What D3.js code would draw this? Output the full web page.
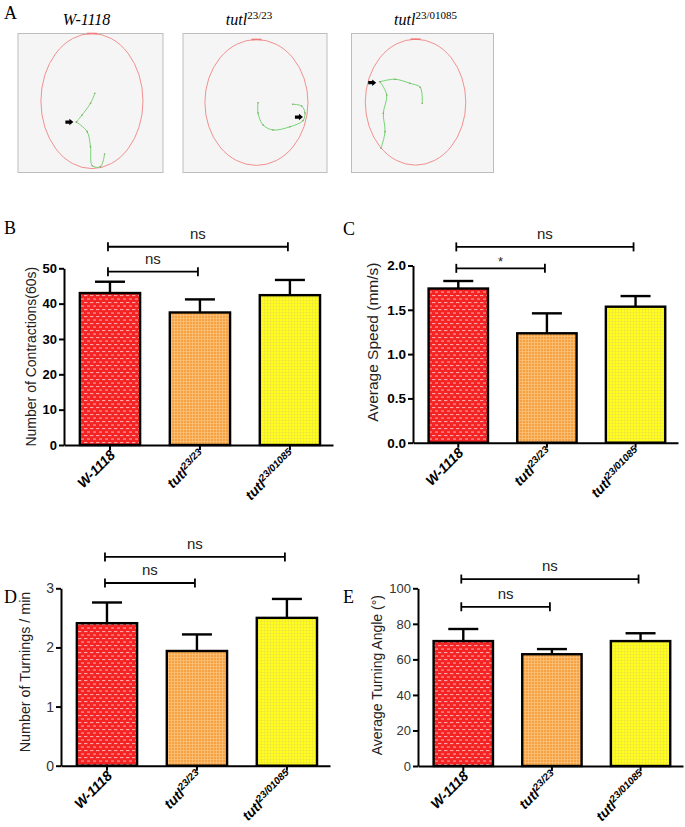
<!DOCTYPE html>
<html><head><meta charset="utf-8">
<script src="https://cdn.jsdelivr.net/npm/d3@7"></script>
<style>body{margin:0;background:#fff}svg{display:block}</style>
</head><body>
<script>
// ---------------- DATA ----------------
const catBase = ['W-1118', 'tutl', 'tutl'];
const catSup = ['', '23/23', '23/01085'];

const contractionsMean = [43.0, 37.5, 42.4];
const contractionsSem = [3.2, 3.7, 4.3];
const contractionsTicks = [0, 10, 20, 30, 40, 50];

const speedMean = [1.74, 1.235, 1.535];
const speedSem = [0.085, 0.225, 0.12];
const speedTicks = [0, 0.5, 1.0, 1.5, 2.0];

const turningsMean = [2.41, 1.94, 2.50];
const turningsSem = [0.35, 0.28, 0.32];
const turningsTicks = [0, 1, 2, 3];

const angleMean = [70.3, 62.9, 70.3];
const angleSem = [6.8, 2.9, 4.4];
const angleTicks = [0, 20, 40, 60, 80, 100];

// significance comparisons: [from, to, label, level (data units)]
const contractionsComp = [[0, 2, 'ns', 56.1], [0, 1, 'ns', 49.05]];
const speedComp = [[0, 2, 'ns', 2.21], [0, 1, '*', 1.968]];
const turningsComp = [[0, 2, 'ns', 3.53], [0, 1, 'ns', 3.09]];
const angleComp = [[0, 2, 'ns', 105.2], [0, 1, 'ns', 89.6]];

// Panel A: arena ellipses (normalized to box) and larval tracks (normalized)
const arenaEllipses = [[0.51, 0.486, 0.352, 0.486], [0.51, 0.496, 0.358, 0.453], [0.451, 0.494, 0.354, 0.453]];
const trackW1118 = [
  [[0.403, 0.637], [0.442, 0.586], [0.50, 0.502], [0.53, 0.43]],
  [[0.403, 0.637], [0.477, 0.706], [0.50, 0.815], [0.512, 0.951], [0.569, 0.958], [0.597, 0.867]]
];
const trackTutl2323 = [
  [[0.521, 0.498], [0.521, 0.572], [0.556, 0.658], [0.625, 0.694], [0.743, 0.671], [0.833, 0.627], [0.847, 0.572], [0.824, 0.522], [0.762, 0.509]]
];
const trackTutl01085 = [
  [[0.201, 0.347], [0.306, 0.329], [0.41, 0.358], [0.484, 0.387], [0.498, 0.502]],
  [[0.201, 0.347], [0.248, 0.442], [0.224, 0.574], [0.236, 0.706], [0.208, 0.826]]
];
const arrowTips = [[0.382, 0.637], [0.833, 0.601], [0.174, 0.354]];

// ---------------- DRAW ----------------
const svg = d3.select('body').append('svg').attr('width', 685).attr('height', 827);
const defs = svg.append('defs');

function pat(id, w, h, bg, build) {
  const p = defs.append('pattern').attr('id', id).attr('width', w).attr('height', h)
    .attr('patternUnits', 'userSpaceOnUse');
  p.append('rect').attr('width', w).attr('height', h).attr('fill', bg);
  build(p);
}
pat('pRed', 6, 7, '#f42424', p => {
  p.append('rect').attr('x', 0).attr('y', 1).attr('width', 3.4).attr('height', 1.1).attr('fill', '#fff').attr('opacity', 0.6);
  p.append('rect').attr('x', 3).attr('y', 4.5).attr('width', 3.4).attr('height', 1.1).attr('fill', '#fff').attr('opacity', 0.6);
});
pat('pOrange', 3, 3, '#f7a242', p => {
  p.append('rect').attr('x', 0).attr('y', 0).attr('width', 3).attr('height', 0.8).attr('fill', '#fbc17a');
  p.append('rect').attr('x', 0).attr('y', 0).attr('width', 0.8).attr('height', 3).attr('fill', '#fbc17a');
});
pat('pYellow', 3, 3, '#ffff1c', p => {
  p.append('rect').attr('x', 0).attr('y', 0).attr('width', 3).attr('height', 0.7).attr('fill', '#f2e63c');
  p.append('rect').attr('x', 0).attr('y', 0).attr('width', 0.7).attr('height', 3).attr('fill', '#f2e63c');
});
const fills = ['url(#pRed)', 'url(#pOrange)', 'url(#pYellow)'];

const SERIF = '"Liberation Serif", "Times New Roman", serif';
const SANS = '"Liberation Sans", Arial, sans-serif';

// panel letters
[['A', 4, 19], ['B', 4, 234], ['C', 343, 235], ['D', 4, 603], ['E', 343, 603]].forEach(([t, x, y]) => {
  svg.append('text').attr('x', x).attr('y', y).text(t)
    .attr('font-family', SERIF).attr('font-size', 18).attr('fill', '#000');
});

// ----- Panel A -----
const boxes = [{x: 18, y: 33.5, w: 145, h: 139}, {x: 183, y: 33.5, w: 144, h: 139}, {x: 351.5, y: 33.5, w: 142, h: 139}];
const tracks = [trackW1118, trackTutl2323, trackTutl01085];
boxes.forEach((b, i) => {
  const sx = d3.scaleLinear().domain([0, 1]).range([b.x, b.x + b.w]);
  const sy = d3.scaleLinear().domain([0, 1]).range([b.y, b.y + b.h]);
  const g = svg.append('g');
  g.append('rect').attr('x', b.x).attr('y', b.y).attr('width', b.w).attr('height', b.h)
    .attr('fill', '#f5f5f5').attr('stroke', '#bdbdbd').attr('stroke-width', 1);
  const e = arenaEllipses[i];
  g.append('ellipse').attr('cx', sx(e[0])).attr('cy', sy(e[1]))
    .attr('rx', sx(e[2]) - sx(0)).attr('ry', sy(e[3]) - sy(0))
    .attr('fill', 'none').attr('stroke', '#f29090').attr('stroke-width', 1);
  g.append('line').attr('x1', sx(e[0]) - 5).attr('x2', sx(e[0]) + 5)
    .attr('y1', sy(e[1] - e[3])).attr('y2', sy(e[1] - e[3]))
    .attr('stroke', '#f07a7a').attr('stroke-width', 1.6);
  const line = d3.line().x(d => sx(d[0])).y(d => sy(d[1])).curve(d3.curveCatmullRom);
  tracks[i].forEach(tr => {
    g.append('path').attr('d', line(tr)).attr('fill', 'none')
      .attr('stroke', '#74d474').attr('stroke-width', 1);
    g.selectAll(null).data(tr).enter().append('circle')
      .attr('cx', d => sx(d[0])).attr('cy', d => sy(d[1])).attr('r', 0.8).attr('fill', '#8aa060');
  });
  const t = arrowTips[i];
  g.append('path').attr('transform', `translate(${sx(t[0])},${sy(t[1])})`)
    .attr('d', 'M0,0L-4,-3.2L-4,-1.6L-8,-1.6L-8,1.6L-4,1.6L-4,3.2Z').attr('fill', '#000');
  const tt = svg.append('text').attr('x', b.x + b.w / 2 - (i === 0 ? 4 : (i === 1 ? 6 : -3))).attr('y', 25)
    .attr('text-anchor', 'middle').attr('font-family', SERIF).attr('font-size', 16);
  tt.append('tspan').attr('font-style', 'italic').text(catBase[i]);
  if (catSup[i]) tt.append('tspan').attr('dy', -6).attr('font-size', 11).text(catSup[i]);
});

// ----- Bar panels -----
function barPanel(cfg) {
  const g = svg.append('g');
  const x = d3.scaleBand().domain(d3.range(catBase.length)).range([cfg.x0, cfg.x1])
    .paddingInner(0.33).paddingOuter(0.16).align(0.55);
  const y = d3.scaleLinear().domain([0, cfg.max]).range([cfg.y0, cfg.yTop]);

  g.selectAll('.eb').data(cfg.mean).enter().append('line')
    .attr('x1', (d, i) => x(i) + x.bandwidth() / 2).attr('x2', (d, i) => x(i) + x.bandwidth() / 2)
    .attr('y1', d => y(d)).attr('y2', (d, i) => y(d + cfg.sem[i]))
    .attr('stroke', '#000').attr('stroke-width', 2.4);
  g.selectAll('.cap').data(cfg.mean).enter().append('line')
    .attr('x1', (d, i) => x(i) + x.bandwidth() / 2 - 15).attr('x2', (d, i) => x(i) + x.bandwidth() / 2 + 15)
    .attr('y1', (d, i) => y(d + cfg.sem[i])).attr('y2', (d, i) => y(d + cfg.sem[i]))
    .attr('stroke', '#000').attr('stroke-width', 2.4);
  g.selectAll('.bar').data(cfg.mean).enter().append('rect')
    .attr('x', (d, i) => x(i)).attr('width', x.bandwidth())
    .attr('y', d => y(d)).attr('height', d => y(0) - y(d))
    .attr('fill', (d, i) => fills[i]).attr('stroke', '#000').attr('stroke-width', 2.4);

  const ya = g.append('g').attr('transform', `translate(${cfg.x0},0)`)
    .call(d3.axisLeft(y).tickValues(cfg.ticks).tickSize(5).tickSizeOuter(0).tickFormat(cfg.fmt));
  ya.select('.domain').attr('stroke', '#000').attr('stroke-width', 2);
  ya.selectAll('.tick line').attr('stroke', '#000').attr('stroke-width', 2);
  ya.selectAll('.tick text').attr('font-family', SANS).attr('font-size', cfg.tickSize)
    .attr('font-weight', cfg.tickBold ? 'bold' : 'normal').attr('fill', cfg.tickColor).attr('x', -7);

  const xa = g.append('g').attr('transform', `translate(0,${cfg.y0})`)
    .call(d3.axisBottom(x).tickSize(5).tickSizeOuter(0).tickFormat(''));
  xa.select('.domain').attr('stroke', '#000').attr('stroke-width', 2);
  xa.selectAll('.tick line').attr('stroke', '#000').attr('stroke-width', 2);

  catBase.forEach((c, i) => {
    const cx = x(i) + x.bandwidth() / 2;
    const t = g.append('text').attr('transform', `translate(${cx + 6},${cfg.y0 + 11}) rotate(-45)`)
      .attr('text-anchor', 'end').attr('font-family', SANS).attr('font-weight', 'bold')
      .attr('font-style', 'italic').attr('font-size', 14).attr('fill', '#000');
    t.append('tspan').text(c);
    if (catSup[i]) t.append('tspan').attr('dy', -5).attr('font-size', 10).text(catSup[i]);
  });

  g.append('text').attr('transform', `translate(${cfg.labelX},${(cfg.y0 + cfg.yTop) / 2 + cfg.labelDy}) rotate(-90)`)
    .attr('text-anchor', 'middle').attr('font-family', SANS).attr('font-size', cfg.labelSize)
    .attr('fill', '#222').text(cfg.label);

  cfg.comp.forEach(([a, b, lab, lvl]) => {
    const xa1 = x(a) + x.bandwidth() / 2 - 2, xb1 = x(b) + x.bandwidth() / 2 - 2, yy = y(lvl);
    g.append('line').attr('x1', xa1).attr('x2', xb1).attr('y1', yy).attr('y2', yy)
      .attr('stroke', '#000').attr('stroke-width', 1.8);
    [xa1, xb1].forEach(xx => g.append('line').attr('x1', xx).attr('x2', xx).attr('y1', yy - 4.5).attr('y2', yy + 4.5)
      .attr('stroke', '#000').attr('stroke-width', 1.8));
    g.append('text').attr('x', (xa1 + xb1) / 2).attr('y', yy - (lab === '*' ? 2 : 8))
      .attr('text-anchor', 'middle').attr('font-family', SANS).attr('font-size', lab === '*' ? 13 : 15)
      .attr('fill', '#222').text(lab);
  });
}

barPanel({x0: 64, x1: 333, y0: 445, yTop: 268.3, max: 50, mean: contractionsMean, sem: contractionsSem,
  ticks: contractionsTicks, fmt: d3.format('d'), tickSize: 13, tickBold: true, tickColor: '#000',
  label: 'Number of Contractions(60s)', labelX: 36, labelDy: 0, labelSize: 14, comp: contractionsComp});
barPanel({x0: 413, x1: 678, y0: 442.7, yTop: 265.5, max: 2, mean: speedMean, sem: speedSem,
  ticks: speedTicks, fmt: d3.format('.1f'), tickSize: 13.5, tickBold: true, tickColor: '#000',
  label: 'Average Speed (mm/s)', labelX: 378, labelDy: -12, labelSize: 15.5, comp: speedComp});
barPanel({x0: 61, x1: 330, y0: 765.7, yTop: 588.3, max: 3, mean: turningsMean, sem: turningsSem,
  ticks: turningsTicks, fmt: d3.format('d'), tickSize: 14, tickBold: false, tickColor: '#333',
  label: 'Number of Turnings / min', labelX: 30, labelDy: -5, labelSize: 14.3, comp: turningsComp});
barPanel({x0: 418, x1: 683, y0: 766, yTop: 588.3, max: 100, mean: angleMean, sem: angleSem,
  ticks: angleTicks, fmt: d3.format('d'), tickSize: 13, tickBold: false, tickColor: '#333',
  label: 'Average Turning Angle (°)', labelX: 382, labelDy: -2, labelSize: 14, comp: angleComp});
</script>
</body></html>
